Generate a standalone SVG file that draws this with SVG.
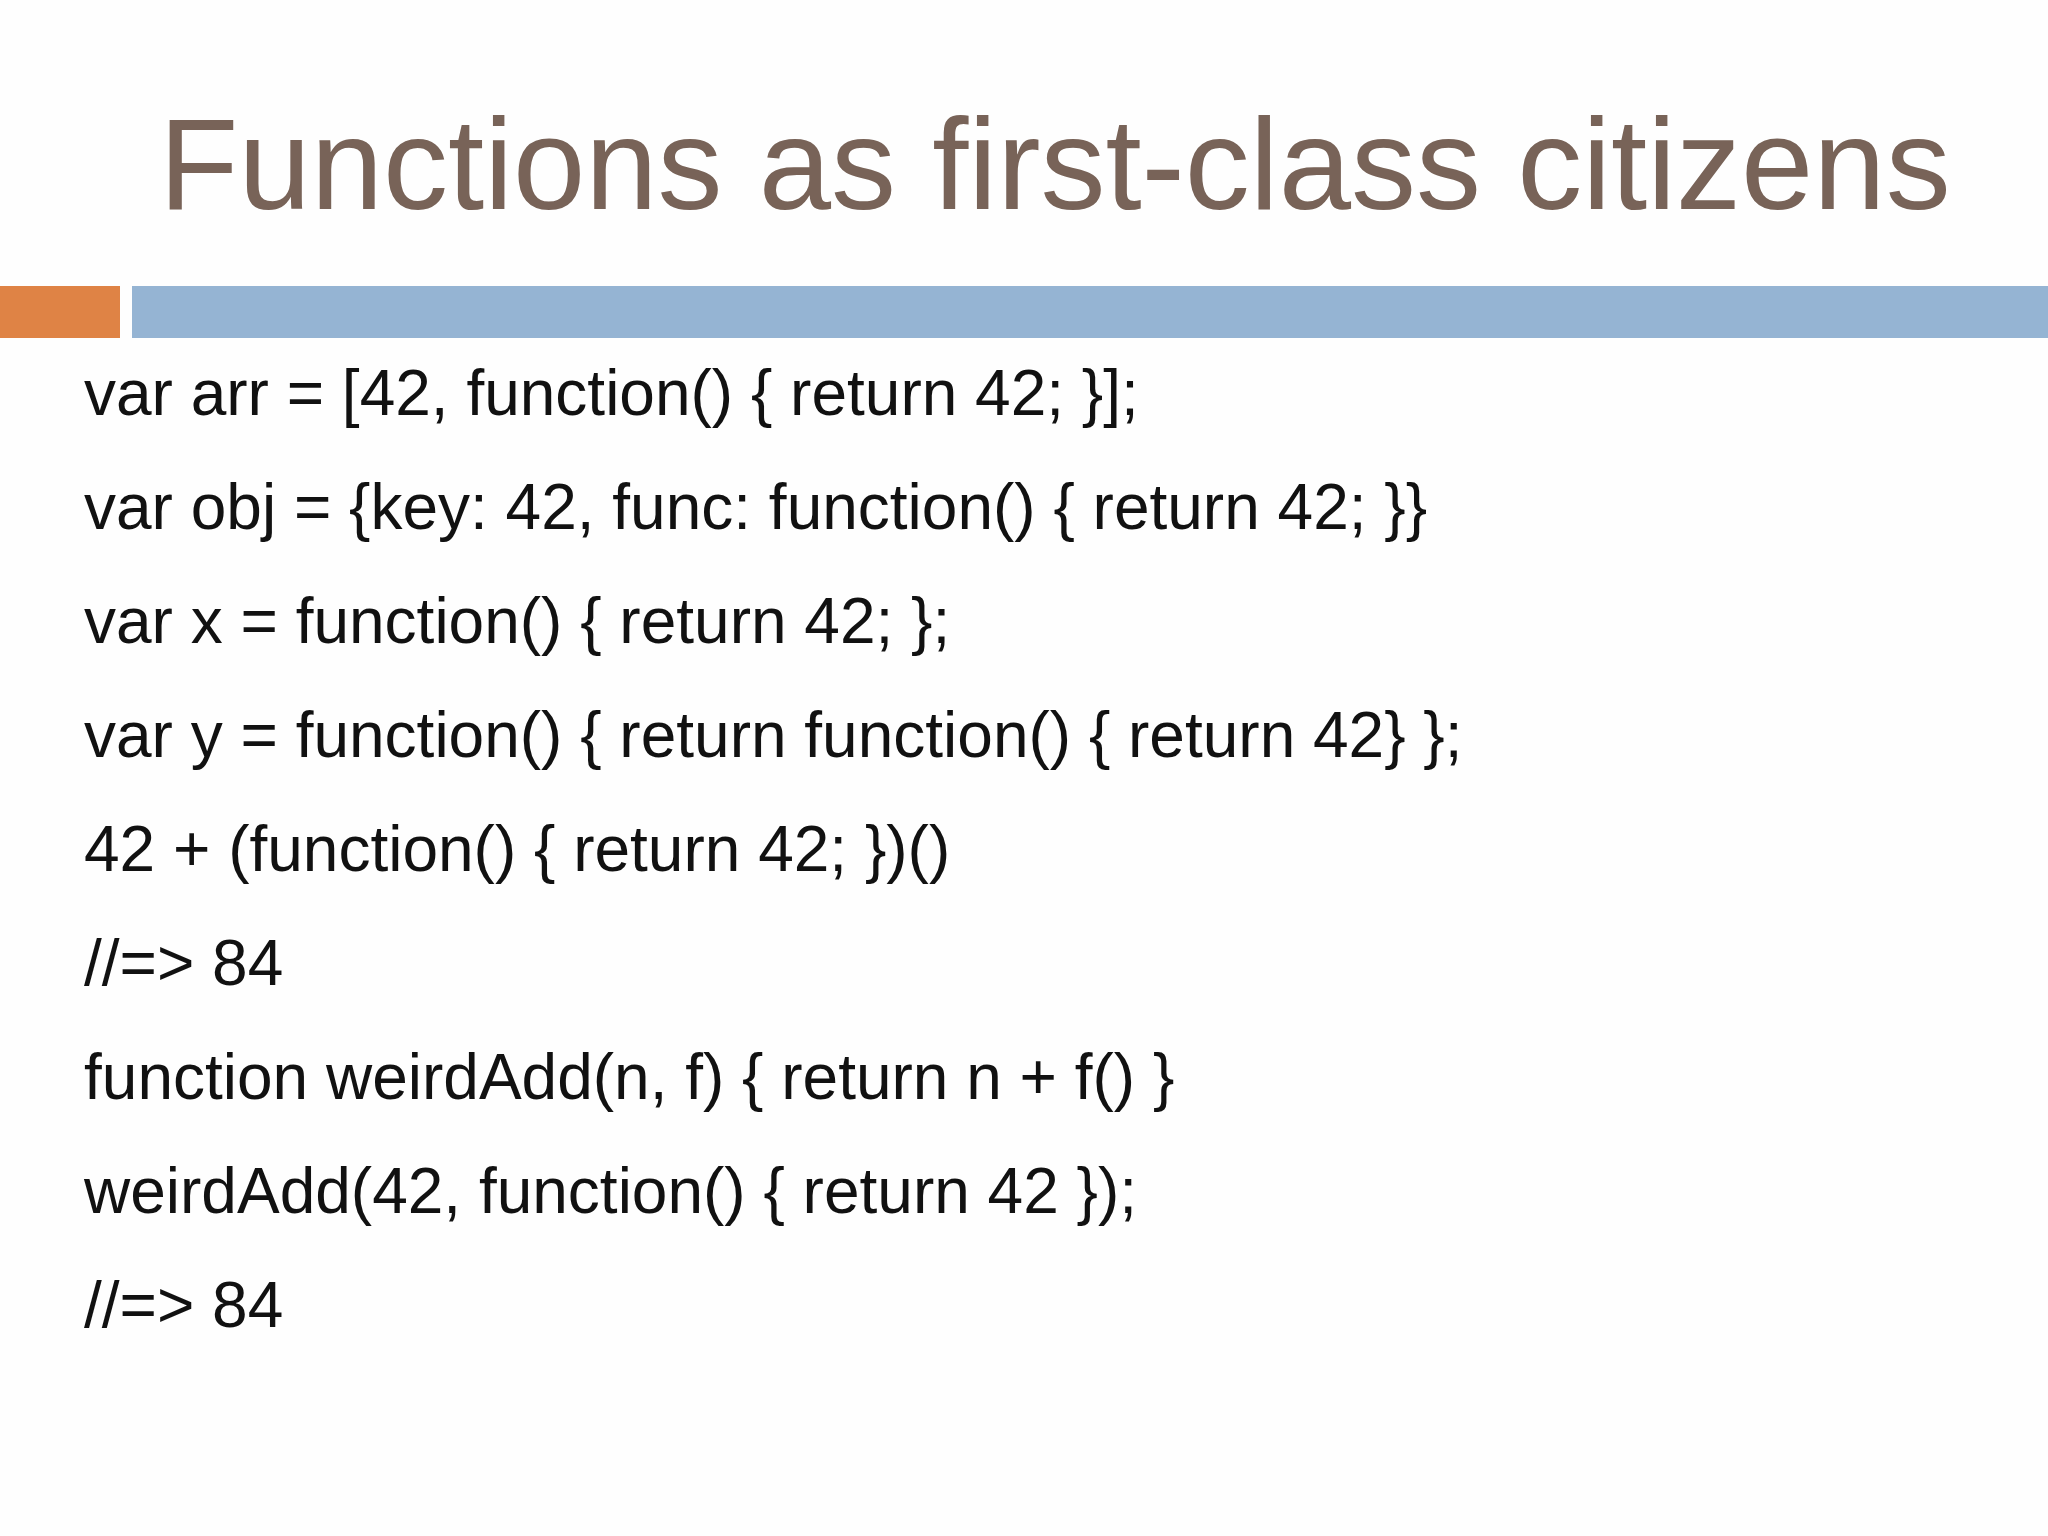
<svg xmlns="http://www.w3.org/2000/svg" width="2048" height="1536" viewBox="0 0 2048 1536">
<style>
.code{font-family:"Liberation Sans",Arial,sans-serif;font-size:64px;fill:#111}
</style>
<rect width="2048" height="1536" fill="#fefefe"/>
<g id="title"><text x="159" y="209" font-family="Liberation Sans,Arial,sans-serif" font-size="130" fill="#786358">Functions as first-class citizens</text></g>
<g id="bars">
<rect x="0" y="286" width="120" height="52" fill="#df8345"/>
<rect x="132" y="286" width="1916" height="52" fill="#95b4d3"/>
</g>
<g id="code">
<text class="code" x="84" y="415">var arr = [42, function() { return 42; }];</text>
<text class="code" x="84" y="529">var obj = {key: 42, func: function() { return 42; }}</text>
<text class="code" x="84" y="643">var x = function() { return 42; };</text>
<text class="code" x="84" y="757">var y = function() { return function() { return 42} };</text>
<text class="code" x="84" y="871">42 + (function() { return 42; })()</text>
<text class="code" x="84" y="985">//=&gt; 84</text>
<text class="code" x="84" y="1099">function weirdAdd(n, f) { return n + f() }</text>
<text class="code" x="84" y="1213">weirdAdd(42, function() { return 42 });</text>
<text class="code" x="84" y="1327">//=&gt; 84</text>
</g>
</svg>
